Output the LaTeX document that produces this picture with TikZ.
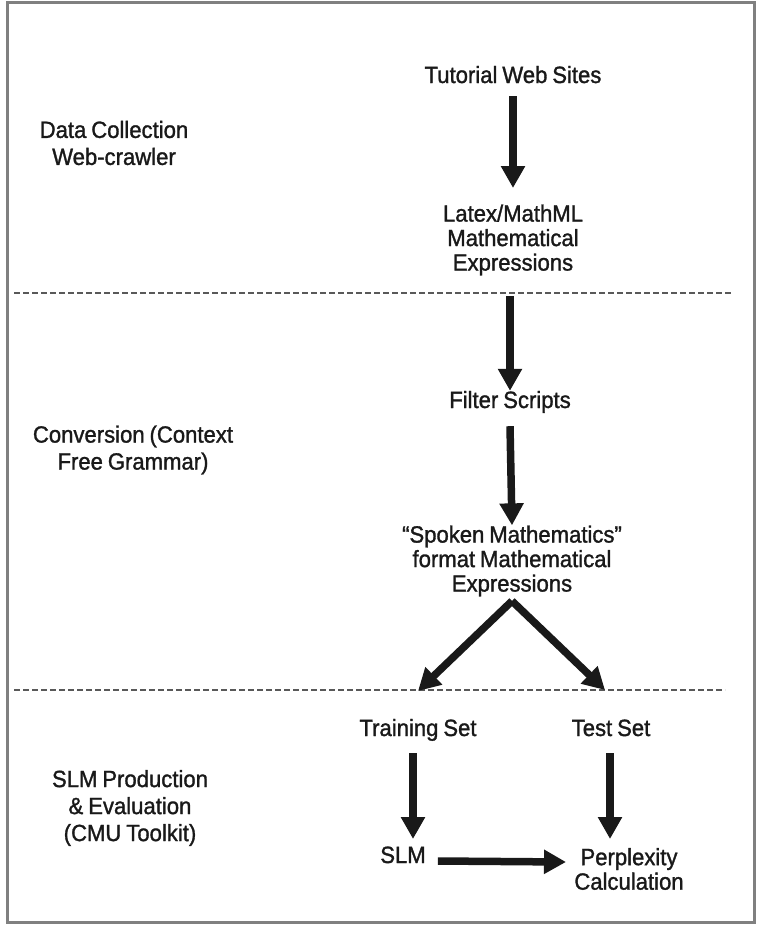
\documentclass[tikz,border=0pt]{standalone}
\usepackage{fontspec}
\setmainfont{Liberation Sans}[FakeStretch=0.94,FakeBold=1.3,WordSpace=0.8]
\usetikzlibrary{arrows.meta}
\begin{document}
\begin{tikzpicture}[x=1pt,y=-1pt,
  lbl/.style={align=center,inner sep=0pt,text=black!90,
    font=\fontsize{23.5}{24.5}\selectfont},
  one/.style={lbl,text height=17pt,text depth=5pt},
  side/.style={lbl,font=\fontsize{23.5}{27}\selectfont},
  flow/.style={line width=7.5pt,black!90,
    -{Triangle[width=23pt,length=22pt]}},
  sep/.style={draw=black!65,line width=2pt,dash pattern=on 6pt off 3pt},
  frame/.style={draw=black!50,line width=3pt}]
\useasboundingbox (0,0) rectangle (758,927);
\draw[frame] (7,2) rectangle (754,922);

% stage labels
\node[side] (s1) at (114,143) {Data Collection\\Web-crawler};
\node[side] (s2) at (133,450) {Conversion (Context\\Free Grammar)};
\node[side] (s3) at (130,808) {SLM Production\\\& Evaluation\\(CMU Toolkit)};

% stage separators
\coordinate (d1a) at (14,293);
\coordinate (d1b) at (733,293);
\coordinate (d2a) at (14,690);
\coordinate (d2b) at (725,690);
\draw[sep] (d1a) -- (d1b);
\draw[sep] (d2a) -- (d2b);

% process nodes
\node[one] (web) at (513,77) {Tutorial Web Sites};
\node[lbl] (tex) at (513,240) {Latex/MathML\\Mathematical\\Expressions};
\node[one] (filt) at (510,402) {Filter Scripts};
\node[lbl] (spk) at (512,561) {``Spoken Mathematics''\\format Mathematical\\Expressions};
\node[one] (train) at (418,730) {Training Set};
\node[one] (test) at (611,730) {Test Set};
\node[one] (slm) at (403,857) {SLM};
\node[lbl] (perp) at (629,869) {Perplexity\\Calculation};

% connectors
\coordinate (split) at (512,601);
\draw[flow] (web.south -| 513,0) ++(0,8) -- (513,188);
\draw[flow] (510,296) -- (filt.north -| 510,0);
\draw[flow] (filt.south) ++(0,13) -- (spk.north);
\draw[flow] (split) -- (418,691);
\draw[flow] (split) -- (605,690);
\draw[flow] (train.south -| 413,0) ++(0,12) -- (413,839);
\draw[flow] (test.south -| 610,0) ++(0,12) -- (610,839);
\draw[flow] (slm.east) ++(12,4) -- (566,862);
\end{tikzpicture}
\end{document}
